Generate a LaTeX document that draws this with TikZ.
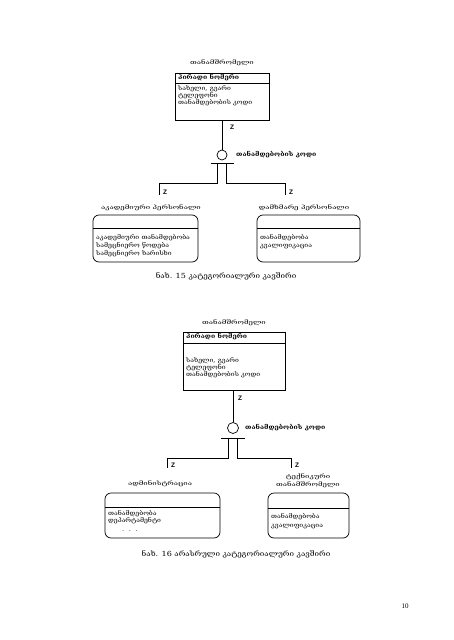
\documentclass[tikz,border=0pt]{standalone}
\usepackage{fontspec}
\setmainfont{DejaVu Serif}
\newfontfamily\gfont[FakeStretch=1.15]{DejaVu Serif}
\newfontfamily\tfont[FakeStretch=1.4]{DejaVu Serif}
\newfontfamily\zfont{Liberation Sans}
\newfontfamily\pnfont{Liberation Serif}
\begin{document}
\begin{tikzpicture}[x=1pt,y=-1pt,
  ln/.style={line width=0.7pt},
  txt/.style={font=\gfont\fontsize{6}{7.2}\selectfont, inner sep=0pt},
  ttl/.style={font=\tfont\fontsize{5.6}{7.5}\selectfont, inner sep=0pt},
  capt/.style={font=\gfont\fontsize{7}{8}\selectfont, inner sep=0pt},
  hdr/.style={font=\gfont\fontsize{6}{7.2}\selectfont\bfseries, inner sep=0pt},
  ztxt/.style={font=\zfont\fontsize{6.5}{7}\selectfont\bfseries, inner sep=0pt},
  ent/.style={draw, line width=0.7pt, inner sep=0pt},
  rent/.style={draw, line width=0.7pt, inner sep=0pt, rounded corners=6pt},
  circ/.style={draw, circle, line width=0.7pt, inner sep=0pt, minimum size=10pt}]
\useasboundingbox (0,0) rectangle (453,640);

% ---------------- Figure 15 ----------------
\node[ttl] (t1) at (222,63) {თანამშრომელი};
\path[ent] (175,73) rectangle (269,120);
\coordinate (e1s) at (222,120);
\draw[ln] (175,83) -- (269,83);
\node[hdr, anchor=west] (h1) at (178,78) {პირადი ნომერი};
\node[txt, anchor=west] (a11) at (178,89) {სახელი, გვარი};
\node[txt, anchor=west] (a12) at (178,96) {ტელეფონი};
\node[txt, anchor=west] (a13) at (178,103) {თანამდებობის კოდი};
\node[circ] (c1) at (222,155) {};
\draw[ln] (e1s) -- (c1.north);
\node[ztxt, anchor=west] (z1) at (230,127) {Z};
\node[hdr, anchor=west] (l1) at (236,155) {თანამდებობის კოდი};
\coordinate (b1l) at (210.5,163);
\coordinate (b1r) at (233.5,163);
\draw[ln] (b1l) -- (b1r);
\coordinate (d1l) at (217.5,163);
\coordinate (d1r) at (226.5,163);
\coordinate (br1l) at (159,195);
\coordinate (br1r) at (285,195);
\draw[ln] (d1l) -- (217.5,183) -| (br1l);
\draw[ln] (d1r) -- (226.5,183) -| (br1r);
\node[ztxt, anchor=west] (z1l) at (163,192) {Z};
\node[ztxt, anchor=west] (z1r) at (289,192) {Z};

\node[ttl] (t1l) at (151,208) {აკადემიური პერსონალი};
\path[rent] (93,215) rectangle (198,262);
\draw[ln] (93,228) -- (198,228);
\node[txt, anchor=west] (a1l1) at (96,238) {აკადემიური თანამდებობა};
\node[txt, anchor=west] (a1l2) at (96,246) {სამეცნიერო წოდება};
\node[txt, anchor=west] (a1l3) at (96,254) {სამეცნიერო ხარისხი};

\node[ttl] (t1r) at (304,208) {დამხმარე პერსონალი};
\path[rent] (257,215) rectangle (360,262);
\draw[ln] (257,228) -- (360,228);
\node[txt, anchor=west] (a1r1) at (260,238) {თანამდებობა};
\node[txt, anchor=west] (a1r2) at (260,246) {კვალიფიკაცია};

\node[capt] (cap1) at (226,276) {ნახ. 15 კატეგორიალური კავშირი};

% ---------------- Figure 16 ----------------
\node[ttl] (t2) at (234,323) {თანამშრომელი};
\path[ent] (183,332) rectangle (285,390);
\coordinate (e2s) at (233,390);
\draw[ln] (183,343) -- (285,343);
\node[hdr, anchor=west] (h2) at (186,337) {პირადი ნომერი};
\node[txt, anchor=west] (a21) at (186,361) {სახელი, გვარი};
\node[txt, anchor=west] (a22) at (186,368) {ტელეფონი};
\node[txt, anchor=west] (a23) at (186,375) {თანამდებობის კოდი};
\node[circ, minimum size=11pt] (c2) at (233,428) {};
\draw[ln] (e2s) -- (c2.north);
\node[ztxt, anchor=west] (z2) at (238,398) {Z};
\node[hdr, anchor=west] (l2) at (245,428) {თანამდებობის კოდი};
\coordinate (b2l) at (221,438);
\coordinate (b2r) at (245,438);
\draw[ln] (b2l) -- (b2r);
\coordinate (d2l) at (228.5,438);
\coordinate (d2r) at (237.5,438);
\coordinate (br2l) at (167,468);
\coordinate (br2r) at (291,468);
\draw[ln] (d2l) -- (228.5,458) -| (br2l);
\draw[ln] (d2r) -- (237.5,458) -| (br2r);
\node[ztxt, anchor=west] (z2l) at (171,465) {Z};
\node[ztxt, anchor=west] (z2r) at (295,465) {Z};

\node[ttl] (t2l) at (160,484) {ადმინისტრაცია};
\path[rent] (105,493) rectangle (220,538);
\draw[ln] (105,507) -- (220,507);
\node[txt, anchor=west] (a2l1) at (108,514) {თანამდებობა};
\node[txt, anchor=west] (a2l2) at (108,521) {დეპარტამენტი};
\node[txt, anchor=west] (a2l3) at (122,531) {.\ \ .\ \ .};

\node[ttl, align=center] (t2r) at (308,481) {ტექნიკური\\თანამშრომელი};
\path[rent] (268,493) rectangle (349,538);
\draw[ln] (268,508) -- (349,508);
\node[txt, anchor=west] (a2r1) at (271,517) {თანამდებობა};
\node[txt, anchor=west] (a2r2) at (271,526) {კვალიფიკაცია};

\node[capt] (cap2) at (236,554) {ნახ. 16 არასრული კატეგორიალური კავშირი};

\node[font=\pnfont\fontsize{7}{8}\selectfont, inner sep=0pt] (pn) at (405,606) {10};
\end{tikzpicture}
\end{document}
